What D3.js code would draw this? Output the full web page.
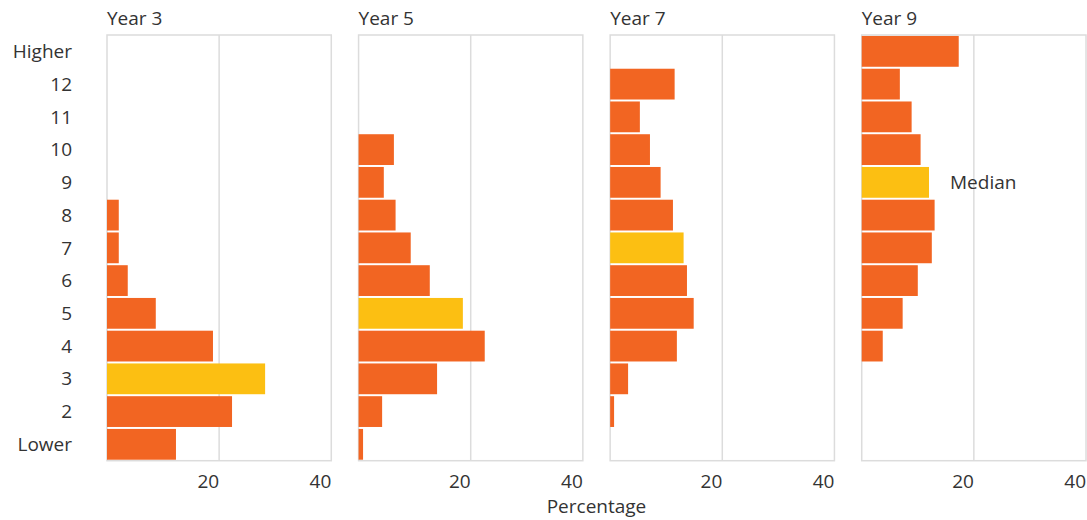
<!DOCTYPE html>
<html>
<head>
<meta charset="utf-8">
<script src="https://cdn.jsdelivr.net/npm/d3@7"></script>
<style>
  body { margin: 0; background: #fff; }
  text { font-family: "Open Sans", sans-serif; fill: #333; }
</style>
</head>
<body>
<svg id="chart" width="1087" height="520"></svg>
<script>
const categories = ["Higher", "12", "11", "10", "9", "8", "7", "6", "5", "4", "3", "2", "Lower"];
const years = ["Year 3", "Year 5", "Year 7", "Year 9"];
const year3 = [0, 0, 0, 0, 0, 2.1, 2.1, 3.7, 8.7, 18.9, 28.2, 22.3, 12.3];
const year5 = [0, 0, 0, 6.3, 4.5, 6.6, 9.3, 12.7, 18.6, 22.5, 14.0, 4.2, 0.8];
const year7 = [0, 11.5, 5.3, 7.1, 9.0, 11.2, 13.1, 13.7, 14.9, 11.9, 3.2, 0.7, 0];
const year9 = [17.3, 6.8, 8.9, 10.5, 12.0, 13.0, 12.5, 10.0, 7.3, 3.75, 0, 0, 0];
const medians = ["3", "5", "7", "9"];
const xTicks = [20, 40];
const xTitle = "Percentage";
const medianLabel = "Median";
const medianLabelYear = "Year 9";

const seriesByYear = [year3, year5, year7, year9];
const colorBar = "#F26522";
const colorMedian = "#FCBF12";
const gridColor = "#dcdcdc";

const svg = d3.select("#chart");
const fontSize = 19;

const panelScale = d3.scaleBand().domain(years).range([107, 1086]).paddingInner(0.1085).paddingOuter(0);
const plotTop = 35, plotBottom = 460.7;
const y = d3.scaleBand().domain(categories).range([plotTop, plotBottom]).paddingInner(0.06).paddingOuter(0.03);

// y labels
svg.append("g").selectAll("text").data(categories).join("text")
  .attr("x", 72)
  .attr("y", d => y(d) + y.bandwidth() / 2)
  .attr("dy", "0.35em")
  .attr("text-anchor", "end")
  .style("font-size", fontSize + "px")
  .text(d => d);

years.forEach((yr, i) => {
  const x0 = panelScale(yr);
  const w = panelScale.bandwidth();
  const x = d3.scaleLinear().domain([0, 40]).range([x0, x0 + w]);
  const g = svg.append("g");
  const data = categories.map((c, j) => ({ cat: c, v: seriesByYear[i][j], median: c === medians[i] }));

  // panel border
  g.append("rect")
    .attr("x", x0).attr("y", plotTop)
    .attr("width", w).attr("height", plotBottom - plotTop)
    .attr("fill", "none").attr("stroke", gridColor).attr("stroke-width", 1.5);

  // gridlines
  g.selectAll("line.grid").data(xTicks.filter(t => t < 40)).join("line")
    .attr("class", "grid")
    .attr("x1", d => x(d)).attr("x2", d => x(d))
    .attr("y1", plotTop).attr("y2", plotBottom)
    .attr("stroke", gridColor).attr("stroke-width", 1.5);

  // bars
  g.selectAll("rect.bar").data(data.filter(d => d.v > 0)).join("rect")
    .attr("class", "bar")
    .attr("x", x(0))
    .attr("y", d => y(d.cat))
    .attr("width", d => x(d.v) - x(0))
    .attr("height", y.bandwidth())
    .attr("fill", d => d.median ? colorMedian : colorBar);

  // title
  g.append("text")
    .attr("x", x0).attr("y", 25)
    .style("font-size", fontSize + "px")
    .text(yr);

  // tick labels
  g.selectAll("text.tick").data(xTicks).join("text")
    .attr("class", "tick")
    .attr("x", d => x(d))
    .attr("y", 488)
    .attr("text-anchor", "end")
    .style("font-size", fontSize + "px")
    .text(d => d);

  // median annotation
  if (yr === medianLabelYear) {
    const md = data.find(d => d.median);
    g.append("text")
      .attr("x", x(md.v) + 21)
      .attr("y", y(md.cat) + y.bandwidth() / 2)
      .attr("dy", "0.35em")
      .style("font-size", fontSize + "px")
      .text(medianLabel);
  }
});

svg.append("text")
  .attr("x", (107 + 1086) / 2)
  .attr("y", 513)
  .attr("text-anchor", "middle")
  .style("font-size", fontSize + "px")
  .text(xTitle);
</script>
</body>
</html>
